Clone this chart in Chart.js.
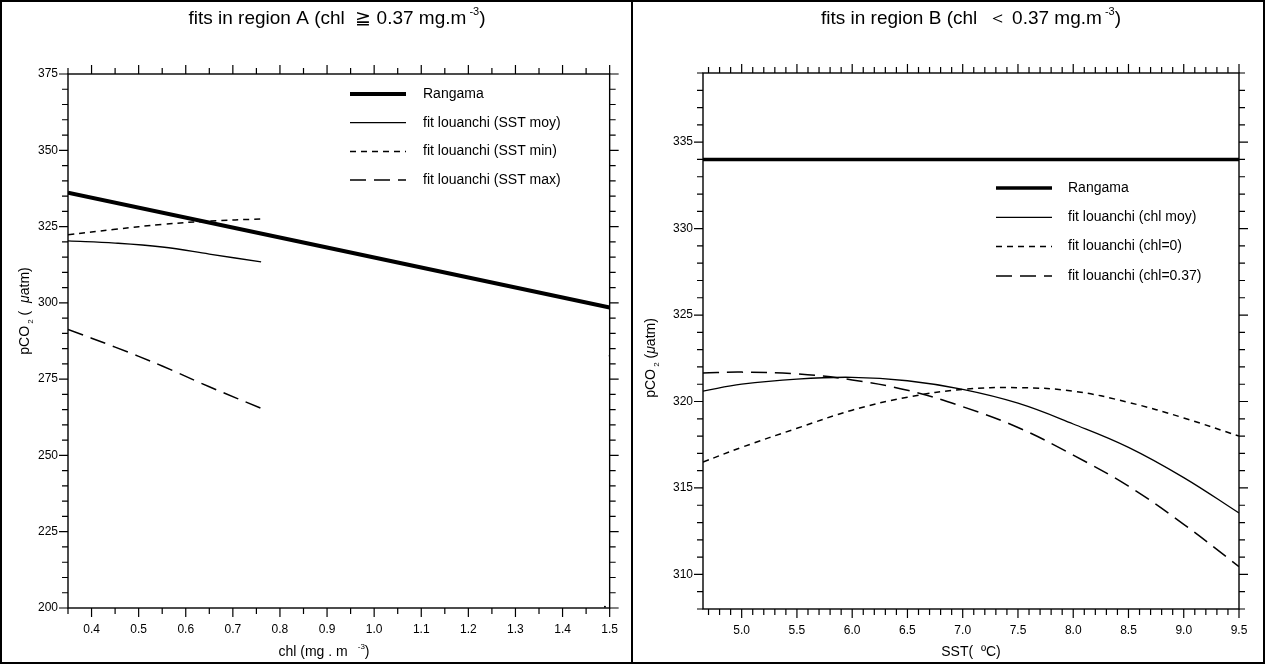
<!DOCTYPE html>
<html>
<head>
<meta charset="utf-8">
<title>fits in region A / B</title>
<script src="https://cdn.jsdelivr.net/npm/chart.js@4.4.1/dist/chart.umd.min.js"></script>
<style>
  body { margin: 0; background: #fff; }
  #frame { position: absolute; left: 0; top: 0; width: 1265px; height: 664px; border: 2px solid #000; box-sizing: border-box; }
  #divider { position: absolute; left: 631px; top: 0; width: 2px; height: 664px; background: #000; }
  .panel { position: absolute; top: 0; height: 664px; }
  #panelA { left: 0; width: 632px; }
  #panelB { left: 632px; width: 633px; }
</style>
</head>
<body>
<div id="frame"></div>
<div id="divider"></div>
<div class="panel" id="panelA"><canvas id="chartA"></canvas></div>
<div class="panel" id="panelB"><canvas id="chartB"></canvas></div>

<script>
    // ---- Region A (left panel): pCO2 vs chl ----
    const chlRangamaA = [0.35, 1.5];
    const pco2RangamaA = [336.1, 298.5];
    const chlMoyA = [0.35, 0.45, 0.55, 0.65, 0.76];
    const pco2SstMoyA = [320.3, 319.6, 318.3, 316.0, 313.4];
    const chlMinA = [0.35, 0.45, 0.55, 0.65, 0.76];
    const pco2SstMinA = [322.3, 324.1, 325.7, 326.8, 327.5];
    const chlMaxA = [0.35, 0.45, 0.55, 0.65, 0.77];
    const pco2SstMaxA = [291.3, 285.5, 279.3, 272.5, 264.8];
    const chlDotsA = [1.5, 1.49];
    const pco2DotsA = [282.7, 200.4];
    const xTicksA = [0.4, 0.5, 0.6, 0.7, 0.8, 0.9, 1.0, 1.1, 1.2, 1.3, 1.4, 1.5];
    const yTicksA = [200, 225, 250, 275, 300, 325, 350, 375];

    // ---- Region B (right panel): pCO2 vs SST ----
    const sstRangamaB = [4.65, 9.5];
    const pco2RangamaB = [334.0, 334.0];
    const sstB = [4.65, 5.0, 5.5, 6.0, 6.5, 7.0, 7.5, 8.0, 8.5, 9.0, 9.5];
    const pco2ChlMoyB = [320.6, 321.0, 321.3, 321.4, 321.2, 320.7, 319.9, 318.7, 317.35, 315.6, 313.55];
    const pco2Chl0B = [316.5, 317.35, 318.45, 319.5, 320.25, 320.7, 320.8, 320.6, 319.95, 319.05, 318.0];
    const pco2Chl037B = [321.65, 321.7, 321.6, 321.25, 320.65, 319.7, 318.5, 316.9, 315.1, 312.9, 310.45];
    const xTicksB = [5.0, 5.5, 6.0, 6.5, 7.0, 7.5, 8.0, 8.5, 9.0, 9.5];
    const yTicksB = [310, 315, 320, 325, 330, 335];

    const FONT = '"Liberation Sans", Arial, sans-serif';

    function zip(xs, ys) {
        return xs.map((x, i) => ({ x: x, y: ys[i] }));
    }

    // font for a piece of rich text: '' normal, 'sup', 'sub', 'it'
    function pieceFont(p, size) {
        const s = (p[1] === 'sup' || p[1] === 'sub') ? Math.round(size * 0.6) : size;
        return (p[1] === 'it' ? 'italic ' : '') + s + 'px ' + FONT;
    }

    // draws text with super/subscripts, centred on x
    function drawRich(ctx, parts, x, y, size) {
        const widths = parts.map(p => { ctx.font = pieceFont(p, size); return ctx.measureText(p[0]).width; });
        const total = widths.reduce((s, w) => s + w, 0);
        let cx = x - total / 2;
        ctx.textAlign = 'left';
        ctx.textBaseline = 'alphabetic';
        parts.forEach((p, i) => {
            ctx.font = pieceFont(p, size);
            const dy = p[1] === 'sup' ? -size * 0.5 : (p[1] === 'sub' ? size * 0.25 : 0);
            ctx.fillText(p[0], cx, y + dy);
            cx += widths[i];
        });
    }

    // frame, tick marks on four sides, titles and legend
    const plotDecor = {
        id: 'plotDecor',
        afterDraw(chart, args, o) {
            const ctx = chart.ctx;
            const a = chart.chartArea;
            const xs = chart.scales.x, ys = chart.scales.y;
            ctx.save();
            ctx.strokeStyle = '#000';
            ctx.fillStyle = '#000';

            // tick marks (major longer, pointing outwards)
            ctx.lineWidth = 1.2;
            const isMajor = (v, list) => list.some(t => Math.abs(t - v) < 1e-6);
            ctx.beginPath();
            for (let v = o.xMinorStart; v <= o.xMax + 1e-9; v += o.xMinorStep) {
                const val = Math.round(v * 1000) / 1000;
                const px = xs.getPixelForValue(val);
                const len = isMajor(val, o.xMajor) ? 9 : 6;
                ctx.moveTo(px, a.bottom); ctx.lineTo(px, a.bottom + len);
                ctx.moveTo(px, a.top); ctx.lineTo(px, a.top - len);
            }
            for (let v = o.yMinorStart; v <= o.yMax + 1e-9; v += o.yMinorStep) {
                const py = ys.getPixelForValue(v);
                const len = isMajor(v, o.yMajor) ? 9 : 6;
                ctx.moveTo(a.left, py); ctx.lineTo(a.left - len, py);
                ctx.moveTo(a.right, py); ctx.lineTo(a.right + len, py);
            }
            ctx.stroke();

            // plot frame
            ctx.lineWidth = 1.4;
            ctx.strokeRect(a.left, a.top, a.right - a.left, a.bottom - a.top);

            // title and axis titles
            drawRich(ctx, o.title, o.titleX, o.titleY, 19);
            drawRich(ctx, o.xTitle, o.xTitleX, o.xTitleY, 14);
            ctx.save();
            ctx.translate(o.yTitleX, o.yTitleY);
            ctx.rotate(-Math.PI / 2);
            drawRich(ctx, o.yTitle, 0, 0, 14);
            ctx.restore();

            // legend
            let row = 0;
            chart.data.datasets.forEach(ds => {
                if (ds.noLegend) return;
                const y = o.legendY + row * o.legendDy;
                ctx.beginPath();
                ctx.lineWidth = ds.borderWidth;
                ctx.setLineDash(ds.borderDash || []);
                ctx.moveTo(o.legendX0, y);
                ctx.lineTo(o.legendX1, y);
                ctx.stroke();
                ctx.setLineDash([]);
                ctx.font = '14px ' + FONT;
                ctx.textAlign = 'left';
                ctx.textBaseline = 'middle';
                ctx.fillText(ds.label, o.legendTextX, y);
                row++;
            });
            ctx.restore();
        }
    };

    function lineSet(label, data, width, dash) {
        return {
            label: label,
            data: data,
            borderColor: '#000',
            borderWidth: width,
            borderDash: dash,
            pointRadius: 0,
            tension: 0.4,
            fill: false
        };
    }

    function makeChart(id, datasets, axes, layout, decor) {
        const ctx = document.getElementById(id).getContext('2d');
        return new Chart(ctx, {
            type: 'line',
            data: { datasets: datasets },
            options: {
                responsive: true,
                maintainAspectRatio: false,
                animation: false,
                layout: { padding: { left: 0, right: layout.right, top: layout.top, bottom: 0 } },
                plugins: { legend: { display: false }, tooltip: { enabled: false }, plotDecor: decor },
                scales: {
                    x: {
                        type: 'linear',
                        min: axes.xMin, max: axes.xMax,
                        grid: { display: false, drawTicks: false },
                        border: { display: false },
                        afterBuildTicks: s => { s.ticks = axes.xTicks.map(v => ({ value: v })); },
                        afterFit: s => { s.height = layout.xHeight; },
                        ticks: {
                            padding: 14, maxRotation: 0, autoSkip: false,
                            color: '#000', font: { family: FONT, size: 12 },
                            callback: v => Number(v).toFixed(1)
                        }
                    },
                    y: {
                        min: axes.yMin, max: axes.yMax,
                        grid: { display: false, drawTicks: false },
                        border: { display: false },
                        afterBuildTicks: s => { s.ticks = axes.yTicks.map(v => ({ value: v })); },
                        afterFit: s => { s.width = layout.yWidth; },
                        ticks: {
                            padding: 10, autoSkip: false,
                            color: '#000', font: { family: FONT, size: 12 },
                            callback: v => String(v)
                        }
                    }
                }
            },
            plugins: [plotDecor]
        });
    }

    window.onload = function() {
        // Left panel
        const dotsA = lineSet('', zip(chlDotsA, pco2DotsA), 0, []);
        dotsA.showLine = false;
        dotsA.pointRadius = 1;
        dotsA.pointBackgroundColor = '#000';
        dotsA.pointBorderWidth = 0;
        dotsA.noLegend = true;

        makeChart('chartA', [
            lineSet('Rangama', zip(chlRangamaA, pco2RangamaA), 4, []),
            lineSet('fit louanchi (SST moy)', zip(chlMoyA, pco2SstMoyA), 1.3, []),
            lineSet('fit louanchi (SST min)', zip(chlMinA, pco2SstMinA), 1.5, [6, 5]),
            lineSet('fit louanchi (SST max)', zip(chlMaxA, pco2SstMaxA), 1.5, [16, 8]),
            dotsA
        ], {
            xMin: 0.35, xMax: 1.5, yMin: 200, yMax: 375, xTicks: xTicksA, yTicks: yTicksA
        }, {
            right: 21, top: 74, xHeight: 56, yWidth: 68
        }, {
            xMinorStart: 0.35, xMinorStep: 0.05, xMax: 1.5, xMajor: xTicksA,
            yMinorStart: 200, yMinorStep: 5, yMax: 375, yMajor: yTicksA,
            title: [['fits in region A (chl  \u2267 0.37 mg.m', ''], [' -3', 'sup'], [')', '']],
            titleX: 337, titleY: 24,
            xTitle: [['chl (mg . m  ', ''], [' -3', 'sup'], [')', '']],
            xTitleX: 324, xTitleY: 656,
            yTitle: [['pCO', ''], [' 2', 'sub'], [' (  ', ''], ['\u03bc', 'it'], ['atm)', '']],
            yTitleX: 29, yTitleY: 311,
            legendX0: 350, legendX1: 406, legendTextX: 423, legendY: 94, legendDy: 28.7
        });

        // Right panel
        makeChart('chartB', [
            lineSet('Rangama', zip(sstRangamaB, pco2RangamaB), 3.5, []),
            lineSet('fit louanchi (chl moy)', zip(sstB, pco2ChlMoyB), 1.3, []),
            lineSet('fit louanchi (chl=0)', zip(sstB, pco2Chl0B), 1.5, [6, 5]),
            lineSet('fit louanchi (chl=0.37)', zip(sstB, pco2Chl037B), 1.5, [16, 8])
        ], {
            xMin: 4.65, xMax: 9.5, yMin: 308, yMax: 339, xTicks: xTicksB, yTicks: yTicksB
        }, {
            right: 26, top: 73, xHeight: 55, yWidth: 71
        }, {
            xMinorStart: 4.7, xMinorStep: 0.1, xMax: 9.5, xMajor: xTicksB,
            yMinorStart: 308, yMinorStep: 1, yMax: 339, yMajor: yTicksB,
            title: [['fits in region B (chl  \uff1c 0.37 mg.m', ''], [' -3', 'sup'], [')', '']],
            titleX: 339, titleY: 24,
            xTitle: [['SST(  \u00baC)', '']],
            xTitleX: 339, xTitleY: 656,
            yTitle: [['pCO', ''], [' 2', 'sub'], [' (', ''], ['\u03bc', 'it'], ['atm)', '']],
            yTitleX: 23, yTitleY: 358,
            legendX0: 364, legendX1: 420, legendTextX: 436, legendY: 188, legendDy: 29.3
        });
    };
</script>
</body>
</html>
